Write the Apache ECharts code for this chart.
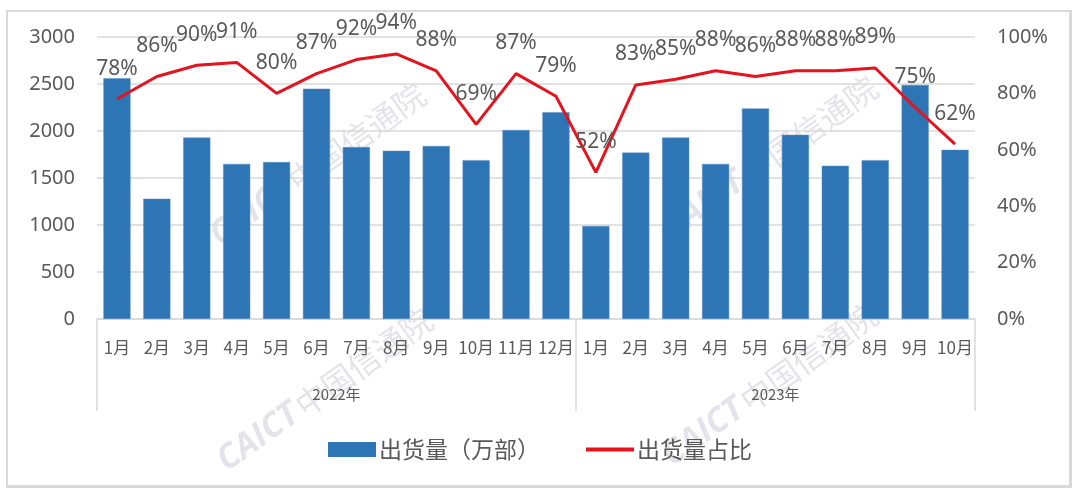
<!DOCTYPE html>
<html>
<head>
<meta charset="utf-8">
<script src="https://cdn.jsdelivr.net/npm/echarts@6/dist/echarts.min.js"></script>
<style>
html,body{margin:0;padding:0;background:#fff;}
#frame{position:absolute;left:6px;top:10px;width:1061px;height:473px;border:2px solid #d9d9d9;border-right-width:3px;border-bottom-width:3px;}
#chart{position:absolute;left:0;top:0;width:1080px;height:494px;}
</style>
</head>
<body>
<div id="frame"></div>
<div id="chart"></div>
<script>
// ---- data ----
const years = ['2022年', '2023年'];
const months2022 = ['1月','2月','3月','4月','5月','6月','7月','8月','9月','10月','11月','12月'];
const months2023 = ['1月','2月','3月','4月','5月','6月','7月','8月','9月','10月'];
const shipments2022 = [2560, 1280, 1930, 1650, 1670, 2450, 1830, 1790, 1840, 1690, 2010, 2200];
const shipments2023 = [990, 1770, 1930, 1650, 2240, 1960, 1630, 1690, 2490, 1800];
const share2022 = [78, 86, 90, 91, 80, 87, 92, 94, 88, 69, 87, 79];
const share2023 = [52, 83, 85, 88, 86, 88, 88, 89, 75, 62];
const leftTicks = [0, 500, 1000, 1500, 2000, 2500, 3000];
const rightTicks = [0, 20, 40, 60, 80, 100];
const seriesNames = ['出货量（万部）', '出货量占比'];
const watermarkText = ['CAICT', '中国信通院'];

// ---- derived ----
const categories = months2022.concat(months2023);
const shipments = shipments2022.concat(shipments2023);
const share = share2022.concat(share2023);
const counts = [months2022.length, months2023.length];
const total = categories.length;
const yearPoints = new Array(total + 1).fill('');
const boundaries = [0];
let acc = 0;
counts.forEach((c, i) => {
  const mid = acc + c / 2;
  if (Number.isInteger(mid)) yearPoints[mid] = years[i];
  acc += c;
  boundaries.push(acc);
});

const grey = '#595959';
const gridColor = '#d9d9d9';
const cjk = '"Noto Sans CJK SC", "Noto Sans", sans-serif';
const num = '"Noto Sans", "Noto Sans CJK SC", sans-serif';

function wm(x, y) {
  return {
    type: 'text', x: x, y: y, rotation: 0.62, z: -10, silent: true,
    style: {
      text: '{a|' + watermarkText[0] + '} {b|' + watermarkText[1] + '}',
      align: 'center', verticalAlign: 'middle',
      rich: {
        a: { fontSize: 34, fontWeight: 'bold', fontStyle: 'italic', fontFamily: 'Open Sans, sans-serif', fill: 'rgba(175,170,190,0.33)' },
        b: { fontSize: 32, fontFamily: cjk, fill: 'rgba(175,170,190,0.33)' }
      }
    }
  };
}

const chart = echarts.init(document.getElementById('chart'), null, { renderer: 'canvas' });
chart.setOption({
  backgroundColor: 'transparent',
  animation: false,
  graphic: [wm(318, 165), wm(770, 158), wm(325, 390), wm(770, 385)],
  grid: { left: 97, right: 105, top: 37, bottom: 175 },
  legend: {
    data: [
      { name: seriesNames[0], icon: 'rect', itemStyle: { borderWidth: 0 } },
      { name: seriesNames[1], icon: 'path://M0,0H100V8H0Z' }
    ],
    bottom: 28, left: 'center',
    itemWidth: 48, itemHeight: 15, itemGap: 46,
    textStyle: { color: grey, fontSize: 23, fontFamily: cjk, padding: [0, 0, 0, -2] }
  },
  xAxis: [
    {
      type: 'category', data: categories, position: 'bottom',
      axisLine: { show: true, lineStyle: { color: gridColor, width: 1.5 } },
      axisTick: { show: false },
      axisLabel: { interval: 0, color: grey, fontSize: 17, fontFamily: cjk, margin: 20 }
    },
    {
      type: 'category', data: yearPoints, position: 'bottom', boundaryGap: false,
      axisLine: { show: false },
      axisTick: {
        show: true, length: 92,
        interval: function (idx) { return boundaries.indexOf(idx) >= 0; },
        lineStyle: { color: gridColor, width: 1.5 }
      },
      axisLabel: { interval: 0, color: grey, fontSize: 15, fontFamily: cjk, margin: 68 }
    }
  ],
  yAxis: [
    {
      type: 'value', min: leftTicks[0], max: leftTicks[leftTicks.length - 1], interval: leftTicks[1] - leftTicks[0],
      axisLine: { show: false }, axisTick: { show: false },
      splitLine: { lineStyle: { color: gridColor, width: 1.5 } },
      axisLabel: { color: grey, fontSize: 20, fontFamily: num, margin: 22, formatter: function (v) { return String(v); } }
    },
    {
      type: 'value', min: rightTicks[0], max: rightTicks[rightTicks.length - 1], interval: rightTicks[1] - rightTicks[0],
      axisLine: { show: false }, axisTick: { show: false }, splitLine: { show: false },
      axisLabel: { color: grey, fontSize: 20, fontFamily: num, margin: 22, formatter: '{value}%' }
    }
  ],
  series: [
    {
      name: seriesNames[0], type: 'bar', data: shipments, xAxisIndex: 0, yAxisIndex: 0,
      barCategoryGap: '32%',
      itemStyle: { color: '#2e75b6', borderColor: '#5b93c9', borderWidth: 0.5 }
    },
    {
      name: seriesNames[1], type: 'line', data: share, xAxisIndex: 0, yAxisIndex: 1,
      symbol: 'circle', symbolSize: 0.01, showSymbol: true,
      lineStyle: { color: '#e5131d', width: 3 },
      itemStyle: { color: '#e5131d' },
      label: {
        show: true, position: 'top', distance: 20, formatter: '{c}%',
        color: grey, fontSize: 21, fontFamily: num
      },
      labelLayout: { hideOverlap: false }
    }
  ]
});
</script>
</body>
</html>
